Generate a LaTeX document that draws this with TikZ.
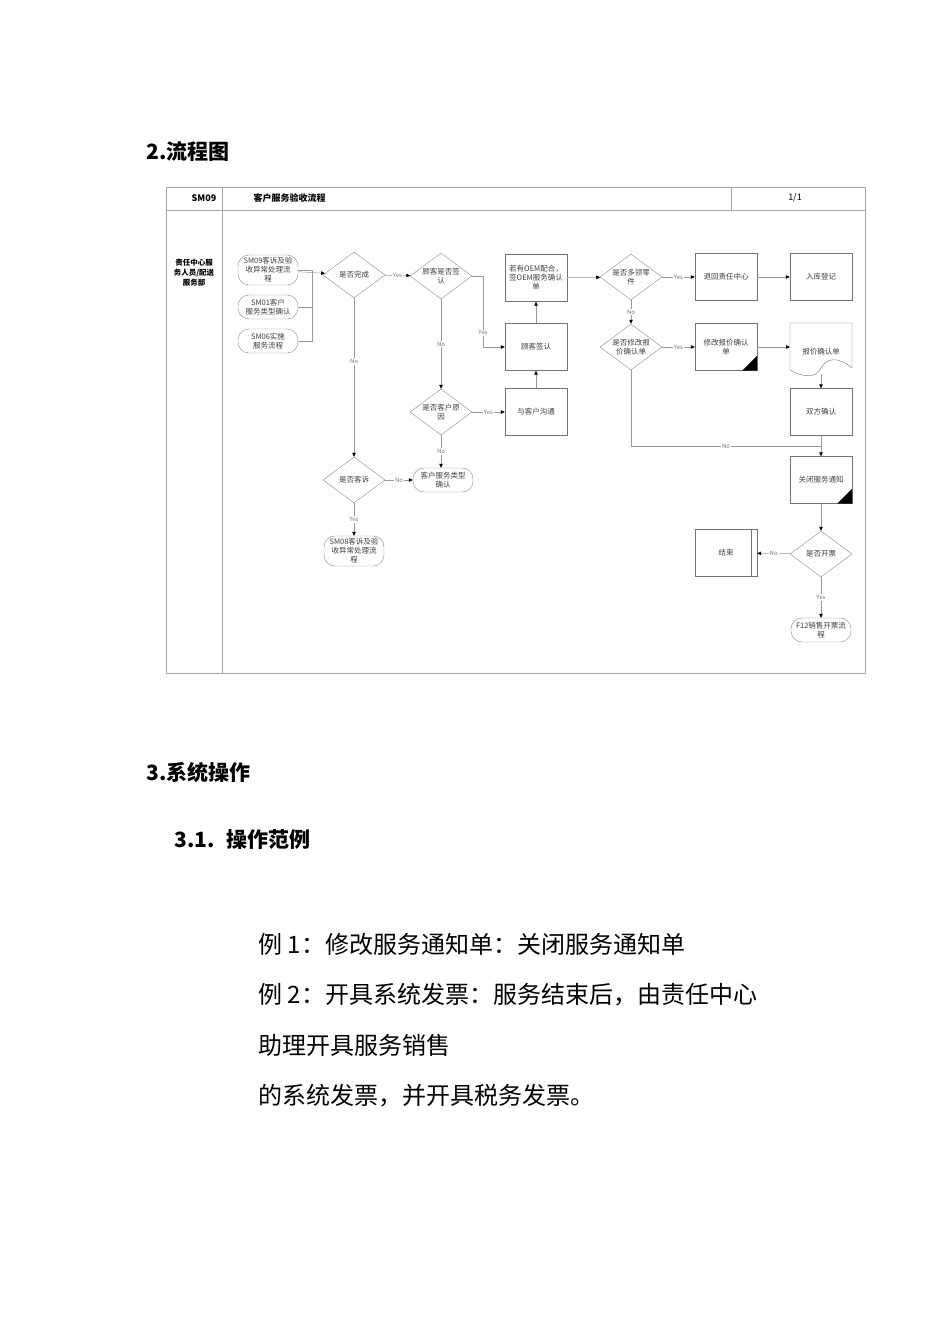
\documentclass[tikz,border=0pt]{standalone}
\usepackage{fontspec}
\setmainfont{Noto Sans CJK SC}
\usetikzlibrary{shapes.geometric,arrows.meta}
\begin{document}
\begin{tikzpicture}[x=1pt,y=-1pt,
 every node/.style={font=\fontsize{7.5}{9}\selectfont\color{black!75}},
 box/.style={draw=black!55,minimum width=62pt,minimum height=47pt,align=center,inner sep=2pt,text width=56pt},
 dec/.style={draw=black!45,diamond,aspect=1.35,minimum width=62pt,minimum height=46pt,inner sep=0pt,align=center},
 term/.style={draw=black!45,rounded corners=11pt,minimum width=60pt,minimum height=24pt,align=center,inner sep=1pt,text width=58pt},
 ln/.style={draw=black!40,line width=0.5pt},
 ar/.style={ln,-{Triangle[length=4pt,width=3.5pt,color=black]}},
 lab/.style={fill=white,inner sep=1pt,font=\fontsize{6}{7}\selectfont\color{black!55}},
 hd/.style={font=\fontsize{21}{24}\selectfont\bfseries\color{black},anchor=west},
 bd/.style={font=\fontsize{24}{26}\selectfont\color{black},anchor=west}]
\useasboundingbox[fill=white] (0,0) rectangle (950,1344);
% headings
\node[hd] (h2) at (143,151) {2.流程图};
\node[hd] (h3) at (143,772) {3.系统操作};
\node[hd] (h31) at (171,840) {3.1.\hspace{12pt}操作范例};
\node[bd] (p1) at (255,944) {例 1：修改服务通知单：关闭服务通知单};
\node[bd] (p2) at (255,995) {例 2：开具系统发票：服务结束后，由责任中心};
\node[bd] (p3) at (255,1045) {助理开具服务销售};
\node[bd] (p4) at (255,1096) {的系统发票，并开具税务发票。};
% frame
\draw[black!35] (166,187) rectangle (865,673);
\draw[black!35] (166,210) -- (865,210);
\draw[black!35] (222,187) -- (222,673);
\draw[black!35] (731,187) -- (731,210);
\node[font=\fontsize{9}{10}\selectfont\bfseries] (sm) at (204,198) {SM09};
\node[font=\fontsize{9}{10}\selectfont\bfseries,anchor=west] (tt) at (250,198) {客户服务验收流程};
\node[font=\fontsize{9}{10}\selectfont] (pg) at (795,198) {1/1};
\node[font=\fontsize{7.5}{10}\selectfont\bfseries\color{black},align=center] (lane) at (194,273) {责任中心服\\务人员/配送\\服务部};
% nodes
\node[term,minimum height=30pt] (t1) at (268,270) {SM09客诉及验\\收异常处理流\\程};
\node[term] (t2) at (268,307) {SM01客户\\服务类型确认};
\node[term] (t3) at (268,341) {SM06实施\\服务流程};
\node[dec] (d1) at (354,275) {是否完成};
\node[dec] (d2) at (441,276) {顾客是否签\\认};
\node[box] (b1) at (536,278) {若有OEM配合，\\签OEM服务确认\\单};
\node[box] (b2) at (536,347) {顾客签认};
\node[box] (b3) at (536,412) {与客户沟通};
\node[dec] (d3) at (441,412) {是否客户原\\因};
\node[dec] (d4) at (354,480) {是否客诉};
\node[term] (t4) at (443,480) {客户服务类型\\确认};
\node[term,minimum height=30pt] (t5) at (354,551) {SM08客诉及验\\收异常处理流\\程};
\node[dec] (d5) at (631,277) {是否多领零\\件};
\node[dec] (d6) at (631,347) {是否修改报\\价确认单};
\node[box] (b4) at (726,277) {退回责任中心};
\node[box] (b5) at (821,277) {入库登记};
\node[box] (b6) at (726,347) {修改报价确认\\单};
\fill (b6.south east) -- ++(0,-15) -- ++(-15,15) -- cycle;
\node[box,draw=none,anchor=north] (doc) at (821,328) {报价确认单};
\draw[black!55] (790,323) -- (852,323) -- (852,368) .. controls (838,356) and (826,358) .. (821,368) .. controls (816,378) and (804,378) .. (790,370) -- cycle;
\node[box] (b7) at (821,412) {双方确认};
\node[box] (b8) at (821,480) {关闭服务通知};
\fill (b8.south east) -- ++(0,-15) -- ++(-15,15) -- cycle;
\node[dec] (d7) at (821,554) {是否开票};
\node[box] (b9) at (726,553) {结束};
\draw[black!55] ([xshift=-6pt]b9.north east) -- ([xshift=-6pt]b9.south east);
\node[term] (t6) at (821,630) {F12销售开票流\\程};
% edges
\draw[ar] (t1) -- (d1);
\draw[ln] (t2.east) -- (312,307) |- (t1.east);
\draw[ln] (t3.east) -- (312,341) -- (312,307);
\draw[ar] (d1) -- node[lab]{Yes} (d2);
\draw[ar] (d2.east) -- (483,276) |- node[lab,pos=0.4]{Yes} (b2.west);
\draw[ar] (d2) -- node[lab]{No} (d3);
\draw[ar] (d3) -- node[lab]{Yes} (b3);
\draw[ar] (b3) -- (b2);
\draw[ar] (b2) -- (b1);
\draw[ar] (b1) -- (d5);
\draw[ar] (d5) -- node[lab]{Yes} (b4);
\draw[ar] (b4) -- (b5);
\draw[ar] (d5) -- node[lab]{No} (d6);
\draw[ar] (d6) -- node[lab]{Yes} (b6);
\draw[ar] (b6.east) -- (790,347);
\draw[ar] (821,374) -- (b7);
\draw[ar] (b7) -- (b8);
\draw[ln] (d6.south) |- node[lab,pos=0.75]{No} (821,446);
\draw[ar] (d1) -- node[lab,pos=0.4]{No} (d4);
\draw[ar] (d3) -- node[lab]{No} (t4.north -| d3);
\draw[ar] (d4) -- node[lab]{No} (t4);
\draw[ar] (d4) -- node[lab]{Yes} (t5);
\draw[ar] (b8) -- (d7);
\draw[ar] (d7) -- node[lab]{No} (b9);
\draw[ar] (d7) -- node[lab]{Yes} (t6);
\end{tikzpicture}
\end{document}
